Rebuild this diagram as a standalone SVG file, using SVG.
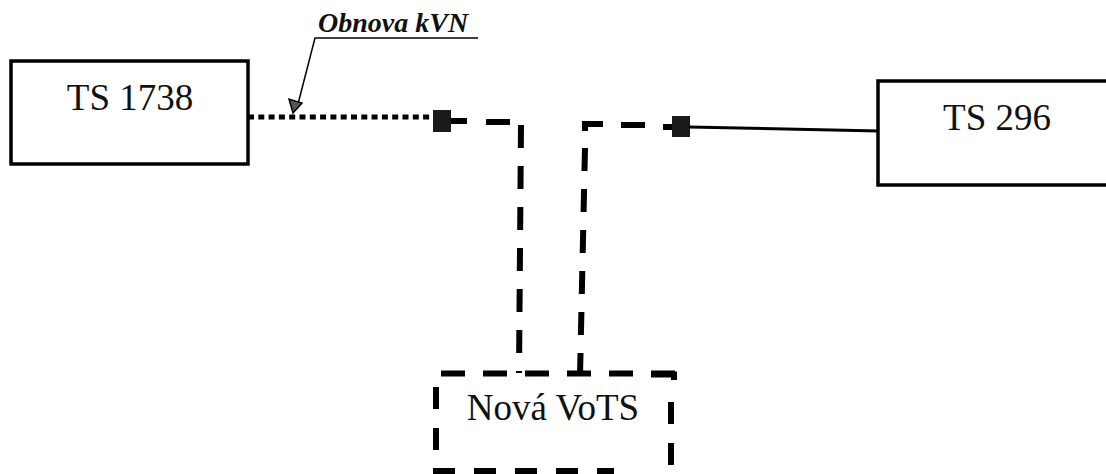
<svg xmlns="http://www.w3.org/2000/svg" width="1106" height="474" viewBox="0 0 1106 474">
<defs>
<style>
.box{fill:#fff;stroke:#000;stroke-width:3.5}
.lbl{font-family:"Liberation Serif","Times New Roman",serif;font-size:37px;fill:#111;text-anchor:middle}
.note{font-family:"Liberation Serif","Times New Roman",serif;font-size:28px;font-weight:bold;font-style:italic;fill:#111}
.dash{fill:none;stroke:#000;stroke-width:6}
.dot{fill:none;stroke:#000;stroke-width:5;stroke-dasharray:6 4.3}
.solid{fill:none;stroke:#000;stroke-width:3}
.thin{fill:none;stroke:#000;stroke-width:1.5}
.joint{fill:#1a1a1a}
</style>
</defs>
<rect width="1106" height="474" fill="#fff"/>
<g id="connectors">
<path class="dot" d="M248 117 H433"/>
<rect class="joint" x="433" y="110" width="18" height="22"/>
<path class="dash" d="M451 121 H467 M486 122 H510"/>
<path class="dash" d="M521 125 L519 373" stroke-dasharray="23 18"/>
<path class="dash" d="M603 124 H585 V131"/>
<path class="dash" d="M585 148 L580 376" stroke-dasharray="23 18"/>
<path class="dash" d="M621 125 H645 M663 127 H672"/>
<rect class="joint" x="672" y="116" width="18" height="21"/>
<path class="solid" d="M689 127 L879 131"/>
</g>
<g id="annotation">
<text class="note" x="318" y="32">Obnova kVN</text>
<path class="thin" d="M478 38 H315 L298 104"/>
<polygon points="293,113 289,99 302,103" fill="#555" stroke="#000" stroke-width="1.5"/>
</g>
<g id="ts1738">
<rect class="box" x="11" y="61" width="237" height="103"/>
<text class="lbl" x="130" y="110">TS 1738</text>
</g>
<g id="ts296">
<rect class="box" x="878" y="81" width="240" height="104"/>
<text class="lbl" x="997" y="130">TS 296</text>
</g>
<g id="nova-vots">
<path class="dash" d="M441 373.5 H675" stroke-dasharray="24 18"/>
<path class="dash" d="M651 374.5 H674 V380"/>
<path class="dash" d="M436 387 V474" stroke-dasharray="22 19"/>
<path class="dash" d="M671 402 V474" stroke-dasharray="22 19"/>
<path class="dash" d="M433 471 H614" stroke-dasharray="22 19"/>
<text class="lbl" x="553" y="420">Nová VoTS</text>
</g>
</svg>
